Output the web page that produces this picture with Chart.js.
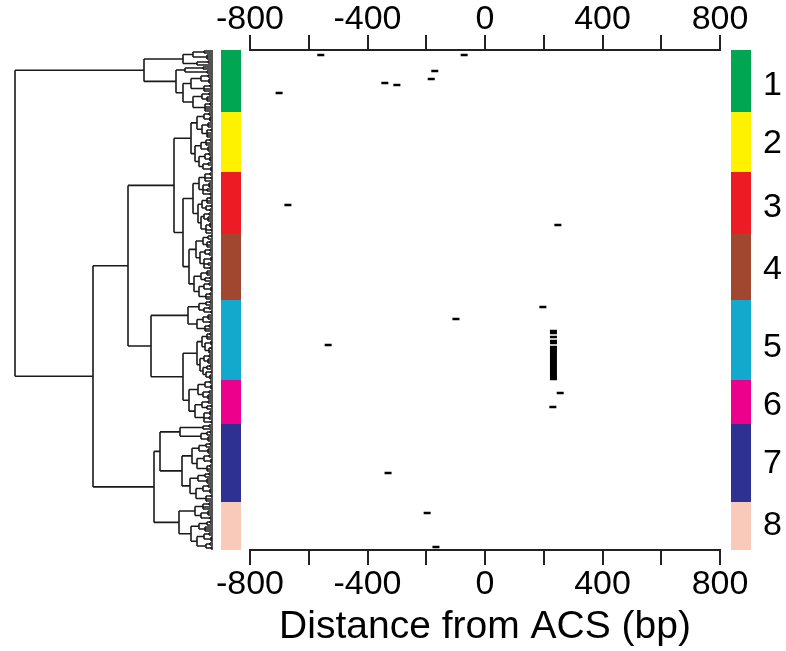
<!DOCTYPE html>
<html>
<head>
<meta charset="utf-8">
<script src="https://cdn.jsdelivr.net/npm/chart.js@4.4.1/dist/chart.umd.min.js"></script>
<style>
  html, body { margin: 0; padding: 0; background: #fff; }
  #wrap { width: 786px; height: 651px; }
</style>
</head>
<body>
<div id="wrap"><canvas id="chart" width="786" height="651"></canvas></div>
<script>
// clusters: labels, row boundaries (250 rows in total), label rows and colours
const clusterLabels = ['1', '2', '3', '4', '5', '6', '7', '8'];
const clusterRows = [0, 31, 61, 92, 125, 165, 187, 226, 250];
const labelRows = [18, 47, 79, 110, 149, 178, 207, 238];
const clusterColors = ['#00a651', '#fff200', '#ed1c24', '#a1472f', '#12a9cc', '#ec008c', '#2e3192', '#f9c9b9'];

// x axis ticks (bp)
const xTicks = [-800, -400, 0, 400, 800];

// sites: row of the heatmap and distance from ACS (bp)
const siteRows = [2, 2, 10, 14, 16, 17, 21, 77, 87, 128, 134, 147,
  140, 141, 143, 145, 146, 148, 149, 150, 151, 152, 153, 154, 155, 156, 157, 158, 159, 160, 161, 162, 163, 164,
  171, 178, 211, 231, 248];
const siteDist = [-559, -71, -171, -183, -341, -300, -701, -671, 248, 197, -99, -534,
  233, 233, 233, 233, 233, 233, 233, 233, 233, 233, 233, 233, 233, 233, 233, 233, 233, 233, 233, 233, 233, 233,
  256, 231, -330, -197, -167];

// dendrogram: [height, ...children], a leaf is 0
const greenTree = [69,
  [30, [20, [9, 0, 0], [6, 0, 0, 0]], [16, [5, 0, 0], 0]],
  [37, [28, [10, 0, 0], [6, 0, 0]],
    [30, [22, [12, [5, 0, 0], [4, 0, 0, 0]], [9, [3, 0, 0], 0, 0]],
         [20, [11, [4, 0, 0], [6, 0, 0, 0]], [8, [3, 0, 0], 0, 0, 0]]]]];
const yellowTree = [22,
  [16, [9, [4, 0, 0], [3, 0, 0, 0]], [11, [5, 0, 0, 0], [6, [2, 0, 0], 0, 0, 0]]],
  [18, [12, [7, [3, 0, 0], 0, 0], [5, 0, 0, 0]], [14, [8, [4, 0, 0], [3, 0, 0, 0]], [10, [5, 0, 0], [2, 0, 0, 0]]]]];
const redTree = [20,
  [14, [8, [3, 0, 0], [2, 0, 0], 0], [10, [4, 0, 0, 0], [6, 0, 0], [3, 0, 0]]],
  [15, [11, [6, [3, 0, 0], 0, 0], [7, [2, 0, 0], [3, 0, 0]]], [12, [9, [4, 0, 0], [5, 0, 0, 0]], [7, [3, 0, 0, 0], [2, 0, 0], 0]]]];
const brownTree = [24,
  [17, [10, [5, [2, 0, 0], 0], [6, [3, 0, 0], 0, 0]], [13, [8, [3, 0, 0], [4, 0, 0]], [9, [2, 0, 0, 0], [5, 0, 0], [3, 0, 0]]]],
  [19, [12, [6, 0, 0, 0], [8, [3, 0, 0], 0]], [14, [9, [4, 0, 0], [2, 0, 0, 0]], [7, [3, 0, 0], 0, 0]]]];
const cyanTopTree = [25,
  [14, [7, [3, 0, 0], 0], [9, [4, 0, 0], [2, 0, 0]]],
  [16, [10, [5, 0, 0, 0], [3, 0, 0]], [8, [4, 0, 0], 0, 0]]];
const cyanLowTree = [16,
  [11, [6, [3, 0, 0], 0, 0], [8, [2, 0, 0, 0], [4, [2, 0, 0], 0, 0]]],
  [13, [9, [4, 0, 0], [5, 0, 0, 0]], [10, [6, [3, 0, 0], 0], [7, [2, 0, 0], [3, 0, 0, 0]]]]];
const magentaTree = [24,
  [15, [8, [3, 0, 0], [2, 0, 0, 0]], [10, [4, 0, 0], [5, 0, 0, 0]]],
  [18, [11, [5, 0, 0], [6, [2, 0, 0], 0]], [9, [3, 0, 0, 0], [4, 0, 0], [2, 0, 0]]]];
const navyTree = [53,
  [33, [10, [4, 0, 0], 0], [12, [6, [3, 0, 0], 0], [5, 0, 0, 0]]],
  [31, [21, [14, [7, [3, 0, 0], 0], [5, 0, 0, 0]], [16, [9, [4, 0, 0], [2, 0, 0, 0]], [6, [3, 0, 0], 0, 0]]],
       [23, [15, [8, [4, 0, 0], 0], [6, 0, 0, 0]], [17, [10, [5, 0, 0], [3, 0, 0, 0]], [7, [2, 0, 0], 0, 0]]]]];
const pinkTree = [34,
  [18, [10, [4, 0, 0], 0, 0], [12, [5, 0, 0, 0], [3, 0, 0]]],
  [22, [14, [6, [3, 0, 0], 0], [8, 0, 0, 0]], [16, [9, [4, 0, 0], [2, 0, 0, 0]], [7, [3, 0, 0], [2, 0, 0]]]]];

const dendrogram = [198, greenTree,
  [120,
    [85, [39, yellowTree, [30, redTree, brownTree]], [62, cyanTopTree, [30, cyanLowTree, magentaTree]]],
    [59, navyTree, pinkTree]]];

// walk the tree: leaves take consecutive rows, a node sits midway between its outer children
const dendroSegs = [];
let nextRow = 0;
function layoutNode(node) {
  if (!Array.isArray(node)) return { h: 0, y: nextRow++ + 0.5 };
  const [h, ...kids] = node;
  const pos = kids.map(layoutNode);
  const top = pos[0].y, bottom = pos[pos.length - 1].y;
  dendroSegs.push({ x: h, y: top }, { x: h, y: bottom }, { x: h, y: null });
  pos.forEach(p => dendroSegs.push({ x: p.h, y: p.y }, { x: h, y: p.y }, { x: h, y: null }));
  return { h, y: (top + bottom) / 2 };
}
layoutNode(dendrogram);

const FONT = 'Arial, "Liberation Sans", Helvetica, sans-serif';
Chart.defaults.font.family = FONT;
Chart.defaults.color = '#000';

// colour strips right and left of the plot (x in pixel units of the 'xp' scale).
// right strip listed first so the points are not "sorted" and nothing gets culled
const LEFT_STRIP = 231, RIGHT_STRIP = 741;
const stripSets = clusterColors.map((c, i) => ({
  data: [
    { x: RIGHT_STRIP, y: clusterRows[i] }, { x: RIGHT_STRIP, y: clusterRows[i + 1] }, { x: RIGHT_STRIP, y: null },
    { x: LEFT_STRIP, y: clusterRows[i] }, { x: LEFT_STRIP, y: clusterRows[i + 1] }
  ],
  xAxisID: 'xp',
  showLine: true,
  borderColor: c,
  borderWidth: 20,
  borderCapStyle: 'butt',
  pointRadius: 0,
  clip: false
}));

const bpAxis = (pos, h, pad) => ({
  type: 'linear',
  position: pos,
  min: -800,
  max: 800,
  afterFit: s => { s.height = h; },
  border: { display: true, color: '#222', width: 2 },
  grid: { drawOnChartArea: false, drawTicks: true, tickLength: 15, color: '#222', lineWidth: 2 },
  ticks: {
    stepSize: 200,
    autoSkip: false,
    maxRotation: 0,
    padding: pad,
    font: { size: 34 },
    color: '#000',
    callback: v => (xTicks.includes(v) ? String(v) : '')
  }
});

new Chart(document.getElementById('chart'), {
  type: 'scatter',
  data: {
    datasets: [
      {
        data: siteDist.map((d, i) => ({ x: d, y: siteRows[i] + 0.5 })),
        xAxisID: 'x',
        pointStyle: 'line',
        pointRadius: 3.5,
        borderWidth: 2.5,
        borderColor: '#000',
        backgroundColor: '#000'
      },
      {
        data: dendroSegs,
        xAxisID: 'xd',
        showLine: true,
        borderColor: '#1a1a1a',
        borderWidth: 1.6,
        pointRadius: 0,
        spanGaps: false,
        clip: false
      },
      ...stripSets
    ]
  },
  options: {
    responsive: false,
    animation: false,
    events: [],
    layout: { padding: { left: 250, right: 0, top: 0, bottom: 0 } },
    plugins: { legend: { display: false }, tooltip: { enabled: false } },
    scales: {
      x: Object.assign(bpAxis('bottom', 101, -1), {
        title: { display: true, text: 'Distance from ACS (bp)', font: { size: 39 }, color: '#000', padding: 0 }
      }),
      xt: bpAxis('top', 50, -5),
      xd: { type: 'linear', display: false, reverse: true, min: -507, max: -37 },
      xp: { type: 'linear', display: false, min: 250, max: 720 },
      y: { type: 'linear', display: false, reverse: true, min: 0, max: 250 },
      yr: {
        type: 'linear',
        position: 'right',
        reverse: true,
        min: 0,
        max: 250,
        afterBuildTicks: s => { s.ticks = labelRows.map(v => ({ value: v })); },
        afterFit: s => { s.width = 66; s.paddingTop = 0; s.paddingBottom = 0; },
        border: { display: false },
        grid: { display: false, drawTicks: false },
        ticks: {
          autoSkip: false,
          padding: 43,
          font: { size: 34 },
          color: '#000',
          callback: (v, i) => clusterLabels[i]
        }
      }
    }
  }
});
</script>
</body>
</html>
